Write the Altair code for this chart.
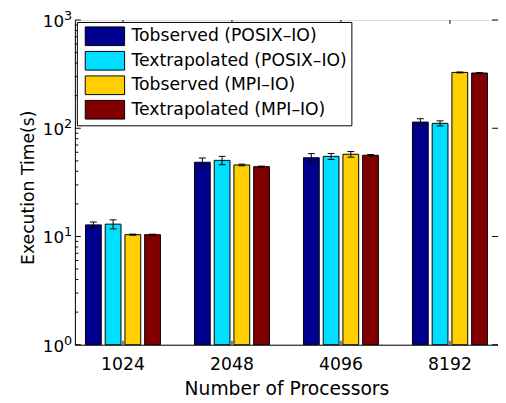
import altair as alt
import pandas as pd

processors = ["1024", "2048", "4096", "8192"]
series = [
    "Tobserved (POSIX–IO)",
    "Textrapolated (POSIX–IO)",
    "Tobserved (MPI–IO)",
    "Textrapolated (MPI–IO)",
]
colors = ["#00008F", "#00DFFF", "#FFCF00", "#800000"]

obs_posix = [12.8, 48.5, 53.4, 114.0]
ext_posix = [13.0, 50.5, 55.0, 111.0]
obs_mpi = [10.4, 45.8, 57.5, 328.0]
ext_mpi = [10.4, 44.2, 56.3, 324.0]

err_obs_posix = [0.8, 4.6, 4.9, 8.5]
err_ext_posix = [1.25, 4.5, 3.5, 6.0]
err_obs_mpi = [0.12, 0.8, 3.4, 3.0]
err_ext_mpi = [0.1, 0.5, 0.8, 2.5]

major_ticks = [1, 10, 100, 1000]
exponents = ["0", "1", "2", "3"]
minor_ticks = [m * d for d in [1, 10, 100] for m in range(2, 10)]

W, H = 430, 330
FONT = "DejaVu Sans"

rows = []
for s, vals, errs in zip(series, [obs_posix, ext_posix, obs_mpi, ext_mpi],
                         [err_obs_posix, err_ext_posix, err_obs_mpi, err_ext_mpi]):
    for p, v, e in zip(processors, vals, errs):
        rows.append({"proc": p, "series": s, "value": v, "lo": v - e, "hi": v + e})
df = pd.DataFrame(rows)

major_df = pd.DataFrame({"value": major_ticks, "base": ["10"] * 4, "exp": exponents})
minor_df = pd.DataFrame({"value": minor_ticks})
proc_df = pd.DataFrame({"proc": processors})

yscale = alt.Scale(type="log", domain=[1, 1000])
xscale = alt.Scale(domain=processors, paddingInner=0.2, paddingOuter=0.041)
xoff_scale = alt.Scale(domain=series, paddingInner=0.2, paddingOuter=0.31)

X = alt.X("proc:N", scale=xscale, sort=processors,
          axis=alt.Axis(title="Number of Processors", labelAngle=0, tickSize=0,
                        ticks=False, labelPadding=11, titlePadding=7,
                        labelFont=FONT, labelFontSize=17.5, labelColor="black",
                        titleFont=FONT, titleFontSize=19, titleFontWeight="normal",
                        titleColor="black", domainColor="black"))
XO = alt.XOffset("series:N", scale=xoff_scale, sort=series)

bars = alt.Chart(df).mark_bar(stroke="black", strokeWidth=1, opacity=1).encode(
    x=X,
    xOffset=XO,
    y=alt.Y("value:Q", scale=yscale,
            axis=alt.Axis(title="Execution Time(s)", labels=False, ticks=False,
                          grid=False, domainColor="black", titlePadding=38,
                          titleY=170,
                          titleFont=FONT, titleFontSize=17.5, titleFontWeight="normal",
                          titleColor="black")),
    y2=alt.datum(1),
    color=alt.Color("series:N", sort=series,
                    scale=alt.Scale(domain=series, range=colors),
                    legend=alt.Legend(title=None, orient="top-left", offset=2,
                                      strokeColor="black", fillColor="white",
                                      padding=4,
                                      symbolType="M-0.6,-0.95L3.4,-0.95L3.4,0.95L-0.6,0.95Z",
                                      symbolSize=400, symbolStrokeColor="black",
                                      symbolStrokeWidth=1, symbolOpacity=1,
                                      labelFont=FONT, labelFontSize=17.5,
                                      labelColor="black", rowPadding=1.9,
                                      labelOffset=30.5, labelLimit=400)),
)

err_line = alt.Chart(df).mark_rule(color="black", strokeWidth=1).encode(
    x=alt.X("proc:N", scale=xscale, sort=processors),
    xOffset=XO,
    y=alt.Y("lo:Q", scale=yscale),
    y2="hi:Q",
)
cap_lo = alt.Chart(df).mark_tick(orient="horizontal", size=7, thickness=1, color="black", opacity=1).encode(
    x=alt.X("proc:N", scale=xscale, sort=processors),
    xOffset=XO,
    y=alt.Y("lo:Q", scale=yscale),
)
cap_hi = alt.Chart(df).mark_tick(orient="horizontal", size=7, thickness=1, color="black", opacity=1).encode(
    x=alt.X("proc:N", scale=xscale, sort=processors),
    xOffset=XO,
    y=alt.Y("hi:Q", scale=yscale),
)

left_major = alt.Chart(major_df).mark_rule(color="black").encode(
    y=alt.Y("value:Q", scale=yscale), x=alt.value(0), x2=alt.value(6))
left_minor = alt.Chart(minor_df).mark_rule(color="black").encode(
    y=alt.Y("value:Q", scale=yscale), x=alt.value(0), x2=alt.value(3.5))
right_major = alt.Chart(major_df).mark_rule(color="black").encode(
    y=alt.Y("value:Q", scale=yscale), x=alt.value(W - 6), x2=alt.value(W))
top_ticks = alt.Chart(proc_df).mark_rule(color="black").encode(
    x=alt.X("proc:N", scale=xscale, sort=processors), y=alt.value(0), y2=alt.value(4))
bottom_ticks = alt.Chart(proc_df).mark_rule(color="black").encode(
    x=alt.X("proc:N", scale=xscale, sort=processors), y=alt.value(H - 4), y2=alt.value(H))

base_lbl = alt.Chart(major_df).mark_text(align="right", baseline="middle", font=FONT,
                                         fontSize=17, color="black", dy=2).encode(
    y=alt.Y("value:Q", scale=yscale), x=alt.value(-11), text="base:N")
exp_lbl = alt.Chart(major_df).mark_text(align="left", baseline="middle", font=FONT,
                                        fontSize=13, color="black", dy=-4).encode(
    y=alt.Y("value:Q", scale=yscale), x=alt.value(-11), text="exp:N")

chart = alt.layer(
    bars, err_line, cap_lo, cap_hi, left_major, left_minor, right_major,
    top_ticks, bottom_ticks, base_lbl, exp_lbl
).properties(
    width=W, height=H,
    autosize=alt.AutoSizeParams(type="none"),
    padding={"left": 68, "top": 9, "right": 0, "bottom": 55},
).configure_view(stroke="black", strokeWidth=1).configure(background="white")

chart.save("out.html", embed_options={"renderer": "svg", "actions": False})
